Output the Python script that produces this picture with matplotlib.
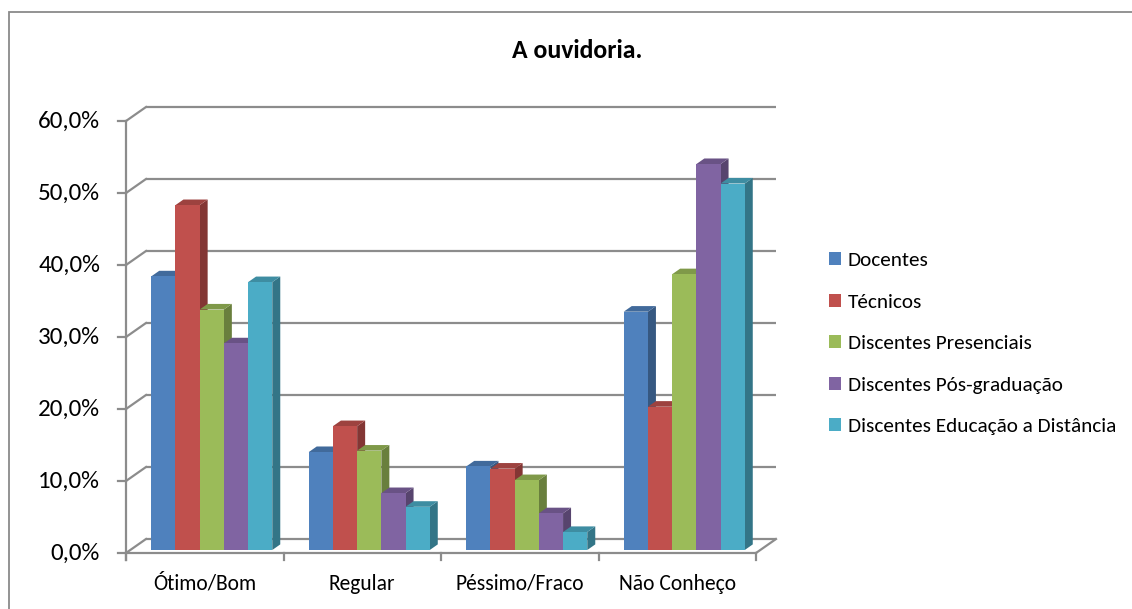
import matplotlib.pyplot as plt
from matplotlib.patches import Polygon, Rectangle
import numpy as np

plt.rcParams['font.family'] = ['Carlito', 'Open Sans', 'DejaVu Sans']

categories = ['Ótimo/Bom', 'Regular', 'Péssimo/Fraco', 'Não Conheço']
series = ['Docentes', 'Técnicos', 'Discentes Presenciais',
          'Discentes Pós-graduação', 'Discentes Educação a Distância']
docentes = [38.0, 13.6, 11.6, 33.1]
tecnicos = [47.9, 17.2, 11.3, 19.9]
presenciais = [33.4, 13.8, 9.7, 38.3]
pos_graduacao = [28.7, 7.9, 5.1, 53.6]
distancia = [37.2, 6.0, 2.5, 50.9]
values = [docentes, tecnicos, presenciais, pos_graduacao, distancia]
colors = ['#4F81BD', '#C0504D', '#9BBB59', '#8064A2', '#4BACC6']
yticks = [0, 10, 20, 30, 40, 50, 60]

# pixel scale of one category unit and one percent
CAT_PX = 157.5
PCT_PX = 7.2
W, H = 1132, 609
X0, Y0 = 126, 553  # front origin of the value axis, in pixels

# full floor depth as a data offset
DX = 20 / CAT_PX
DY = 14 / PCT_PX
BAR_D0 = 0.214   # depth where the bar fronts sit
BAR_DEPTH = 0.4  # bar depth as fraction of floor
BAR_W = 0.1537
CLUSTER_OFF = 0.133
GRID = '#8c8c8c'


def shade(c, f):
    r, g, b = [int(c[i:i + 2], 16) / 255 for i in (1, 3, 5)]
    return (r * f, g * f, b * f)


fig = plt.figure(figsize=(W / 100, H / 100), dpi=100)
ax = fig.add_axes([0, 0, 1, 1])
ax.set_xlim(-X0 / CAT_PX, (W - X0) / CAT_PX)
ax.set_ylim(-(H - Y0) / PCT_PX, Y0 / PCT_PX)
ax.axis('off')

ncat = len(categories)

# back wall gridlines and left wall connectors
for v in yticks:
    ax.plot([DX, ncat + DX], [v + DY, v + DY], color=GRID, lw=1.6,
            solid_capstyle='butt', zorder=1)
    ax.plot([0, DX], [v, v + DY], color=GRID, lw=1.6, zorder=1)
    ax.plot([-8 / CAT_PX, 0], [v, v], color=GRID, lw=1.6, zorder=1)
    ax.text(-26 / CAT_PX, v, f'{v:.1f}%'.replace('.', ','), ha='right',
            va='center', fontsize=18, color='#000000')

# floor outline and category axis
ax.plot([0, ncat], [0, 0], color=GRID, lw=1.6, zorder=1)
ax.plot([ncat, ncat + DX], [0, DY], color=GRID, lw=1.6, zorder=1)
ax.plot([0, 0], [-7 / PCT_PX, yticks[-1]], color=GRID, lw=1.6, zorder=1)
for i in range(ncat + 1):
    ax.plot([i, i], [0, -7 / PCT_PX], color=GRID, lw=1.6, zorder=1)
for i, cat in enumerate(categories):
    ax.text(i + 0.5, -31 / PCT_PX, cat, ha='center', va='center',
            fontsize=15.5)

# 3D columns: front, side and top faces
bdx, bdy = BAR_DEPTH * DX, BAR_DEPTH * DY
ox, oy = BAR_D0 * DX, BAR_D0 * DY
z = 2
for i in range(ncat):
    for s, vals in enumerate(values):
        v = vals[i]
        x = i + CLUSTER_OFF + s * BAR_W + ox
        y0, y1 = oy, oy + v
        c = colors[s]
        front = Polygon([(x, y0), (x + BAR_W, y0), (x + BAR_W, y1), (x, y1)],
                        closed=True, facecolor=c, edgecolor='none', zorder=z)
        side = Polygon([(x + BAR_W, y0), (x + BAR_W + bdx, y0 + bdy),
                        (x + BAR_W + bdx, y1 + bdy), (x + BAR_W, y1)],
                       closed=True, facecolor=shade(c, 0.68),
                       edgecolor='none', zorder=z)
        top = Polygon([(x, y1), (x + BAR_W, y1), (x + BAR_W + bdx, y1 + bdy),
                       (x + bdx, y1 + bdy)],
                      closed=True, facecolor=shade(c, 0.82),
                      edgecolor='none', zorder=z)
        for p in (side, top, front):
            ax.add_patch(p)
        z += 1

# chart frame
fig.patches.append(Rectangle((9 / W, -0.1), 1.2, 1 - 12 / H + 0.1,
                             transform=fig.transFigure, fill=False,
                             edgecolor='#8a8a8a', lw=1.3))

fig.text(577 / W, 1 - 51 / H, 'A ouvidoria.', ha='center', va='center',
         fontsize=18.5, fontweight='bold')

handles = [Rectangle((0, 0), 1, 1, facecolor=c, edgecolor='none')
           for c in colors]
fig.legend(handles, series, loc='upper left',
           bbox_to_anchor=(829 / W, 1 - 252 / H), frameon=False,
           fontsize=15.3, handlelength=0.58, handleheight=0.58,
           handletextpad=0.3, labelspacing=1.15, borderaxespad=0,
           borderpad=0)

fig.savefig('out.png', dpi=100)
